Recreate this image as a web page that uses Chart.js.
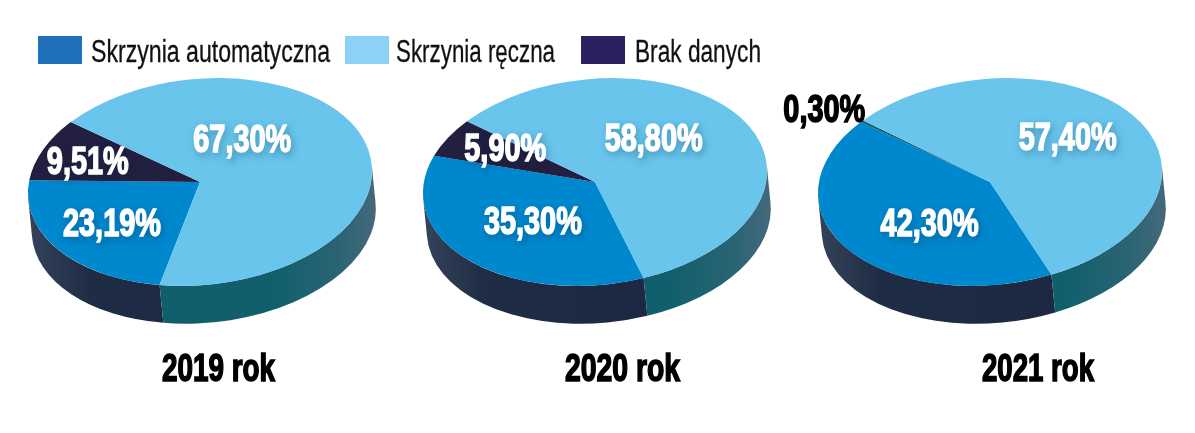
<!DOCTYPE html>
<html lang="pl">
<head>
<meta charset="utf-8">
<title>Skrzynie biegów</title>
<script src="https://cdn.jsdelivr.net/npm/chart.js@4"></script>
<style>
  html, body { margin: 0; padding: 0; background: #fff; }
  #page { position: relative; width: 1195px; height: 433px; overflow: hidden; font-family: "Liberation Sans Narrow", "Liberation Sans", sans-serif; }
  #page canvas { position: absolute; top: -18px; }
  .box { position: absolute; top: 36px; width: 44px; height: 28px; }
  .lbl { position: absolute; top: 34px; font-size: 31px; line-height: 36px; color: #111; white-space: nowrap; -webkit-text-stroke: 0.3px #111; transform-origin: left center; }
  .year { position: absolute; top: 343px; font-size: 38px; line-height: 50px; font-weight: bold; color: #000; white-space: nowrap; -webkit-text-stroke: 1.6px #000; transform-origin: left center; }
</style>
</head>
<body>
<div id="page"></div>
<script>
const categories = ["Skrzynia automatyczna", "Skrzynia ręczna", "Brak danych"];
const years = ["2019 rok", "2020 rok", "2021 rok"];
const values2019 = [23.19, 67.3, 9.51];
const values2020 = [35.3, 58.8, 5.9];
const values2021 = [42.3, 57.4, 0.3];

// slices run clockwise as blue, dark, light - not the legend order
const sliceOrder = [0, 2, 1];

const topColors = ["#0088ce", "#69c5ec", "#231f40"];
const legendColors = ["#1f6fb9", "#8bd2f6", "#2a2260"];
const RX = 172.6, RY = 103, DY = 38;
const TILT = 5.7 * Math.PI / 180; // the discs lean slightly, right side up
const W = 440, H = 400;

// side wall of the disc, lighter towards the edges
function sideGradient(ctx, cx, idx) {
  const g = ctx.createLinearGradient(cx - RX, 0, cx + RX, 0);
  if (idx === 0) {
    g.addColorStop(0, "#34445a");
    g.addColorStop(0.18, "#1f2c45");
    g.addColorStop(1, "#1b2640");
  } else if (idx === 1) {
    g.addColorStop(0, "#0f5e6c");
    g.addColorStop(0.72, "#115f6d");
    g.addColorStop(0.9, "#2a6473");
    g.addColorStop(1, "#42697b");
  } else {
    g.addColorStop(0, "#1b2035");
    g.addColorStop(1, "#1b2035");
  }
  return g;
}

const disc3d = {
  id: "disc3d",
  beforeDatasetsDraw(chart) {
    const ctx = chart.ctx;
    const arcs = chart.getDatasetMeta(0).data;
    const from = -0.01, to = Math.PI + 0.01;
    // extrusion runs along the short axis of the tilted ellipse
    const ox = Math.sin(TILT) * DY, oy = Math.cos(TILT) * DY;
    arcs.forEach((arc, i) => {
      const idx = sliceOrder[i];
      for (let k = -2; k <= 1; k++) {
        const a = Math.max(arc.startAngle + k * 2 * Math.PI, from);
        const b = Math.min(arc.endAngle + k * 2 * Math.PI, to);
        if (b <= a) continue;
        ctx.beginPath();
        ctx.ellipse(arc.x, arc.y, arc.outerRadius, RY, -TILT, a, b);
        ctx.ellipse(arc.x + ox, arc.y + oy, arc.outerRadius, RY, -TILT, b, a, true);
        ctx.closePath();
        ctx.fillStyle = sideGradient(ctx, arc.x, idx);
        ctx.fill();
      }
    });
    // squash the top face into the same ellipse
    ctx.save();
    const cx = arcs[0].x, cy = arcs[0].y;
    ctx.translate(cx, cy);
    ctx.rotate(-TILT);
    ctx.scale(1, RY / arcs[0].outerRadius);
    ctx.translate(-cx, -cy);
  },
  afterDatasetsDraw(chart, args, opts) {
    const ctx = chart.ctx;
    ctx.restore();
    const arc0 = chart.getDatasetMeta(0).data[0];
    const vals = chart.data.datasets[0].data;
    vals.forEach((v, i) => {
      const pos = opts.labelAt[i];
      const x = arc0.x + pos[0] * RX, y = arc0.y + pos[1] * RX;
      const outside = v < 1;
      const txt = v.toFixed(2).replace(".", ",") + "%";
      ctx.save();
      ctx.font = 'bold 38px "Liberation Sans Narrow", "Liberation Sans", sans-serif';
      ctx.textAlign = "center";
      ctx.textBaseline = "middle";
      ctx.translate(x, y);
      ctx.scale(0.76, 1);
      if (!outside) {
        ctx.shadowColor = "rgba(0,40,70,0.55)";
        ctx.shadowBlur = 7;
        ctx.shadowOffsetX = 2;
        ctx.shadowOffsetY = 3;
      }
      ctx.fillStyle = ctx.strokeStyle = outside ? "#000" : "#fff";
      ctx.lineWidth = 1.6;
      ctx.strokeText(txt, 0, 0);
      ctx.shadowColor = "transparent";
      ctx.fillText(txt, 0, 0);
      ctx.restore();
    });
  }
};

function drawPie(values, centerX, rotation, labelAt, colors) {
  const canvas = document.createElement("canvas");
  canvas.width = W;
  canvas.height = H;
  canvas.style.left = centerX - W / 2 + "px";
  document.getElementById("page").appendChild(canvas);
  new Chart(canvas, {
    type: "pie",
    data: {
      labels: sliceOrder.map((i) => categories[i]),
      datasets: [{
        data: sliceOrder.map((i) => values[i]),
        backgroundColor: sliceOrder.map((i) => colors[i]),
        borderWidth: 0
      }]
    },
    options: {
      responsive: false,
      animation: false,
      rotation: rotation,
      layout: { padding: (H - 2 * RX) / 2 },
      plugins: {
        legend: { display: false },
        tooltip: { enabled: false },
        disc3d: { labelAt: labelAt }
      }
    },
    plugins: [disc3d]
  });
}

// label centres as fractions of the radius, in slice order
drawPie(values2019, 200, 197, [[-0.51, 0.25], [-0.65, -0.105], [0.245, -0.235]], topColors);
drawPie(values2020, 595, 167, [[-0.36, 0.24], [-0.52, -0.18], [0.34, -0.24]], topColors);
drawPie(values2021, 990, 162.5, [[-0.35, 0.255], [-0.96, -0.41], [0.45, -0.245]], ["#0088ce", "#69c5ec", "#0f5a68"]);

// legend and year captions
const page = document.getElementById("page");
const boxX = [38, 345, 581];
const textX = [91, 396, 635];
const textW = [239, 159, 126];
categories.forEach((c, i) => {
  const b = document.createElement("div");
  b.className = "box";
  b.style.left = boxX[i] + "px";
  b.style.background = legendColors[i];
  page.appendChild(b);
  const t = document.createElement("div");
  t.className = "lbl";
  t.style.left = textX[i] + "px";
  t.textContent = c;
  page.appendChild(t);
  t.style.transform = "scaleX(" + textW[i] / t.getBoundingClientRect().width + ")";
});
const yearX = [162, 565, 982];
const yearW = [113, 115, 112];
years.forEach((y, i) => {
  const t = document.createElement("div");
  t.className = "year";
  t.style.left = yearX[i] + "px";
  t.textContent = y;
  page.appendChild(t);
  t.style.transform = "scaleX(" + yearW[i] / t.getBoundingClientRect().width + ")";
});
</script>
</body>
</html>
